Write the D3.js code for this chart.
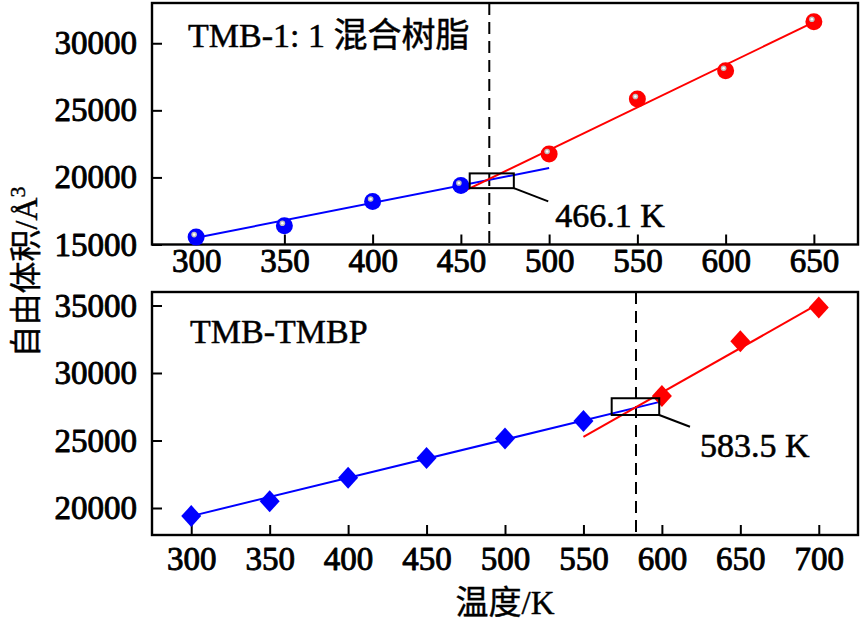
<!DOCTYPE html>
<html><head><meta charset="utf-8">
<script src="https://cdn.jsdelivr.net/npm/d3@7"></script>
<style>body{margin:0;background:#fff}svg{display:block}</style>
</head><body>
<svg id="c" width="863" height="622"></svg>
<script>
// ---- data: top panel (TMB-1:1 混合树脂) ----
const topTemps   = [300, 350, 400, 450, 500, 550, 600, 650];
const topVolumes = [15550, 16400, 18200, 19400, 21750, 25850, 27950, 31600];
const topGroups  = ["low","low","low","low","high","high","high","high"];
const topLowFit  = [[300, 15500], [500, 20700]];
const topHighFit = [[450, 18870], [650, 31570]];
const topTg = 466.1;
const topBox = [[455, 20300], [480, 19200]];
const topLeaderEnd = [499.5, 18210];
const topXTicks = [300, 350, 400, 450, 500, 550, 600, 650];
const topYTicks = [15000, 20000, 25000, 30000];

// ---- data: bottom panel (TMB-TMBP) ----
const botTemps   = [300, 350, 400, 450, 500, 550, 600, 650, 700];
const botVolumes = [19400, 20500, 22250, 23700, 25150, 26450, 28300, 32350, 34850];
const botGroups  = ["low","low","low","low","low","low","high","high","high"];
const botLowFit  = [[300, 19400], [600, 27900]];
const botHighFit = [[550, 25270], [700, 35130]];
const botTg = 583.5;
const botBox = [[568, 28130], [598.3, 26890]];
const botLeaderEnd = [617.9, 26020];
const botXTicks = [300, 350, 400, 450, 500, 550, 600, 650, 700];
const botYTicks = [20000, 25000, 30000, 35000];

const colors = {low: "#0000ff", high: "#ff0000"};
const FONT = "'Liberation Serif', 'Times New Roman', 'Noto Sans CJK SC', serif";
const svg = d3.select("#c");

function heavy(sel, w) {
  sel.attr("fill", "#000").attr("stroke", "#000").attr("stroke-width", w)
     .attr("stroke-linejoin", "round").attr("paint-order", "stroke");
}

function panel(cfg) {
  const x = d3.scaleLinear().domain(cfg.xDomain).range([152, 858]);
  const y = d3.scaleLinear().domain(cfg.yDomain).range([cfg.bottom, cfg.top]);
  const g = svg.append("g");

  // axes
  const ax = g.append("g").attr("transform", `translate(0,${cfg.bottom})`)
    .call(d3.axisBottom(x).tickValues(cfg.xTicks).tickFormat(d3.format("d"))
      .tickSizeInner(-10).tickSizeOuter(0).tickPadding(cfg.xPad));
  const ay = g.append("g").attr("transform", `translate(152,0)`)
    .call(d3.axisLeft(y).tickValues(cfg.yTicks).tickFormat(d3.format("d"))
      .tickSizeInner(-10).tickSizeOuter(0).tickPadding(15));
  [ax, ay].forEach(a => {
    a.select(".domain").remove();
    a.selectAll("line").attr("stroke", "#000").attr("stroke-width", 2);
    const t = a.selectAll("text").attr("font-family", FONT).attr("font-size", 33);
    heavy(t, 0.9);
  });

  // frame
  g.append("rect").attr("x", 152).attr("y", cfg.top)
    .attr("width", 706).attr("height", cfg.bottom - cfg.top)
    .attr("fill", "none").attr("stroke", "#000").attr("stroke-width", 2.4);

  // dashed Tg line
  g.append("line").attr("x1", x(cfg.tg)).attr("x2", x(cfg.tg))
    .attr("y1", cfg.top).attr("y2", cfg.bottom)
    .attr("stroke", "#000").attr("stroke-width", 2).attr("stroke-dasharray", "12,7");

  // fit lines
  const line = d3.line().x(d => x(d[0])).y(d => y(d[1]));
  g.append("path").attr("d", line(cfg.lowFit)).attr("fill", "none")
    .attr("stroke", colors.low).attr("stroke-width", 2);
  g.append("path").attr("d", line(cfg.highFit)).attr("fill", "none")
    .attr("stroke", colors.high).attr("stroke-width", 2);

  // markers
  const pts = cfg.temps.map((t, i) => ({t, v: cfg.vols[i], grp: cfg.groups[i]}));
  const m = g.selectAll("g.pt").data(pts).join("g").attr("class", "pt")
    .attr("transform", d => `translate(${x(d.t)},${y(d.v)})`);
  if (cfg.marker === "circle") {
    m.append("circle").attr("r", 8.5).attr("fill", d => colors[d.grp]);
    m.append("circle").attr("cx", -2).attr("cy", -2.5).attr("r", 2.8).attr("fill", "#bfbfbf");
    m.append("circle").attr("cx", -2).attr("cy", -2.5).attr("r", 1.3).attr("fill", "#fff");
  } else {
    m.append("path").attr("d", "M0,-11L10,0L0,11L-10,0Z").attr("fill", d => colors[d.grp]);
  }

  // annotation box + leader + label
  const bx0 = x(cfg.box[0][0]), by0 = y(cfg.box[0][1]);
  const bx1 = x(cfg.box[1][0]), by1 = y(cfg.box[1][1]);
  g.append("rect").attr("x", bx0).attr("y", by0).attr("width", bx1 - bx0).attr("height", by1 - by0)
    .attr("fill", "none").attr("stroke", "#000").attr("stroke-width", 2);
  const le = [x(cfg.leader[0]), y(cfg.leader[1])];
  g.append("line").attr("x1", bx1).attr("y1", by1).attr("x2", le[0]).attr("y2", le[1])
    .attr("stroke", "#000").attr("stroke-width", 2);
  heavy(g.append("text").attr("x", le[0] + cfg.labelOff[0]).attr("y", le[1] + cfg.labelOff[1])
    .attr("font-family", FONT).attr("font-size", 34).text(cfg.tg.toFixed(1) + " K"), 0.6);

  // panel title
  heavy(g.append("text").attr("x", cfg.titlePos[0]).attr("y", cfg.titlePos[1])
    .attr("font-family", FONT).attr("font-size", 34).text(cfg.title), 0.5);
}

panel({
  xDomain: [275, 675], yDomain: [15000, 33000], top: 3, bottom: 244.5,
  xTicks: topXTicks, yTicks: topYTicks, xPad: 4,
  temps: topTemps, vols: topVolumes, groups: topGroups,
  lowFit: topLowFit, highFit: topHighFit, tg: topTg,
  box: topBox, leader: topLeaderEnd, labelOff: [7, 26],
  marker: "circle", title: "TMB-1: 1 混合树脂", titlePos: [188, 47]
});
panel({
  xDomain: [275, 725], yDomain: [18000, 36000], top: 292, bottom: 535,
  xTicks: botXTicks, yTicks: botYTicks, xPad: 12,
  temps: botTemps, vols: botVolumes, groups: botGroups,
  lowFit: botLowFit, highFit: botHighFit, tg: botTg,
  box: botBox, leader: botLeaderEnd, labelOff: [10, 30],
  marker: "diamond", title: "TMB-TMBP", titlePos: [190, 343]
});

// axis titles
const yl = svg.append("text").attr("transform", "translate(26,272) rotate(-90)")
  .attr("text-anchor", "middle").attr("dominant-baseline", "central")
  .attr("font-family", FONT).attr("font-size", 32);
heavy(yl, 0.4);
yl.append("tspan").text("自由体积/Å");
yl.append("tspan").attr("dy", -9).attr("font-size", 22).text("3");

heavy(svg.append("text").attr("x", 505).attr("y", 614).attr("text-anchor", "middle")
  .attr("font-family", FONT).attr("font-size", 33).text("温度/K"), 0.4);
</script>
</body></html>
